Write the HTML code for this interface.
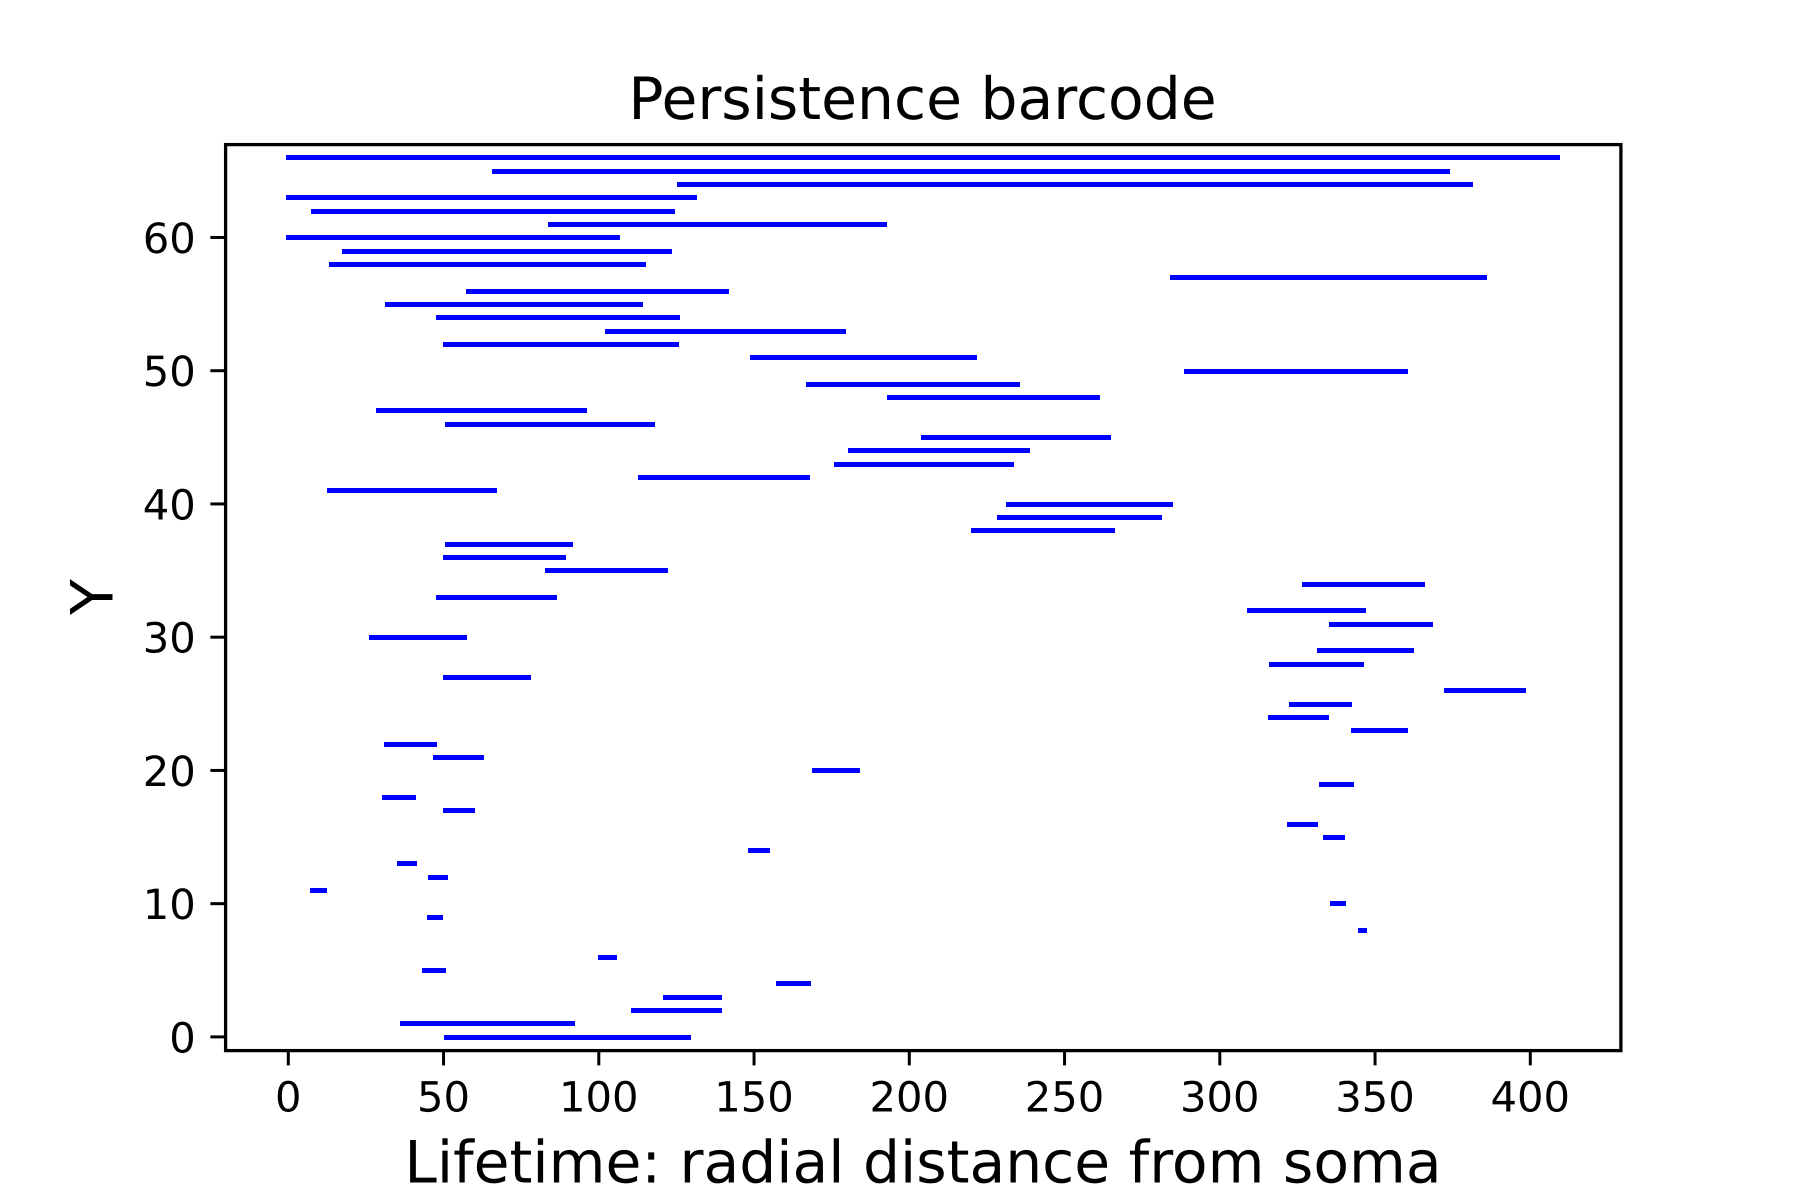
<!DOCTYPE html>
<html lang="en">
<head>
<meta charset="utf-8">
<title>Persistence barcode</title>
<style>
  html, body { margin: 0; padding: 0; background: #ffffff; width: 1800px; height: 1200px; overflow: hidden; }
  svg { display: block; }
  text { font-family: "DejaVu Sans", "Liberation Sans", sans-serif; fill: #000000; text-rendering: geometricPrecision; }
  .tick-label { font-size: 41.67px; }
  .axis-title { font-size: 58.33px; }
</style>
</head>
<body>
<svg id="chart" xmlns="http://www.w3.org/2000/svg" width="1800" height="1200" viewBox="0 0 1800 1200">
  <rect x="0" y="0" width="1800" height="1200" fill="#ffffff"></rect>
  <g id="bars"></g>
  <g id="x-ticks"></g>
  <g id="y-ticks"></g>
  <rect x="225.6" y="144.6" width="1395.3" height="906" fill="none" stroke="#000000" stroke-width="3.3"></rect>
  <text class="axis-title" x="922.5" y="119" text-anchor="middle">Persistence barcode</text>
  <text class="axis-title" x="923" y="1182.5" text-anchor="middle">Lifetime: radial distance from soma</text>
  <text class="axis-title" x="0" y="0" text-anchor="middle" transform="translate(112.5 597) rotate(-90)">Y</text>
</svg>
<script>
const levels = [0,1,2,3,4,5,6,8,9,10,11,12,13,14,15,16,17,18,19,20,21,22,23,24,25,26,27,28,29,30,31,32,33,34,35,36,37,38,39,40,41,42,43,44,45,46,47,48,49,50,51,52,53,54,55,56,57,58,59,60,61,62,63,64,65,66];
const births = [50.95,36.78,111.17,121.48,157.87,43.86,100.55,345.31,45.47,336.29,7.79,45.80,35.81,148.85,334.04,322.45,50.63,30.98,332.75,169.47,47.41,31.63,343.06,316.33,323.09,373.01,50.63,316.65,332.11,26.80,335.97,309.57,48.37,327.28,83.48,50.63,51.27,220.67,229.05,231.95,13.27,113.43,176.55,181.06,204.57,51.27,29.05,193.62,167.53,289.27,149.50,50.63,102.80,48.37,31.95,58.04,284.77,13.91,18.10,0,84.44,8.12,0,125.99,66.41,0];
const deaths = [128.89,91.53,138.87,138.87,167.53,49.98,105.06,346.60,49.02,339.84,11.66,50.63,40.64,154.33,339.51,330.82,59.32,40.32,342.41,183.32,62.22,47.08,359.80,334.36,341.77,397.81,77.36,345.63,361.74,56.75,367.85,346.27,85.73,365.28,121.48,88.63,90.88,265.44,280.58,284.12,66.41,167.21,232.92,238.07,264.15,117.29,95.39,260.61,234.85,359.80,221.00,125.02,178.81,125.35,113.43,141.13,385.25,114.40,122.77,106.02,192.01,123.74,130.82,380.74,373.33,408.76];
const xTickValues = [0,50,100,150,200,250,300,350,400];
const xTickLabels = ["0","50","100","150","200","250","300","350","400"];
const yTickValues = [0,10,20,30,40,50,60];
const yTickLabels = ["0","10","20","30","40","50","60"];

const NS = "http://www.w3.org/2000/svg";
const xScale = function (v) { return 288.3 + 3.105 * v; };
const yScale = function (v) { return 1037.204 - 13.324 * v; };
const BAR_THICKNESS = 5;

const barLayer = document.getElementById("bars");
levels.forEach(function (level, i) {
  const left = Math.round(xScale(births[i]) - BAR_THICKNESS / 2);
  const right = Math.round(xScale(deaths[i]) + BAR_THICKNESS / 2);
  const top = Math.round(yScale(level) - BAR_THICKNESS / 2);
  const bar = document.createElementNS(NS, "rect");
  bar.setAttribute("x", left);
  bar.setAttribute("y", top);
  bar.setAttribute("width", Math.max(right - left, 1));
  bar.setAttribute("height", BAR_THICKNESS);
  bar.setAttribute("fill", "#0000ff");
  
  
  barLayer.appendChild(bar);
});

const xTickLayer = document.getElementById("x-ticks");
xTickValues.forEach(function (value, i) {
  const px = xScale(value);
  const tick = document.createElementNS(NS, "line");
  tick.setAttribute("x1", px);
  tick.setAttribute("x2", px);
  tick.setAttribute("y1", 1051);
  tick.setAttribute("y2", 1065.4);
  tick.setAttribute("stroke", "#000000");
  tick.setAttribute("stroke-width", 3);
  
  
  xTickLayer.appendChild(tick);
  const label = document.createElementNS(NS, "text");
  label.setAttribute("x", px);
  label.setAttribute("y", 1111.7);
  label.setAttribute("text-anchor", "middle");
  label.setAttribute("class", "tick-label");
  
  
  label.textContent = xTickLabels[i];
  xTickLayer.appendChild(label);
});

const yTickLayer = document.getElementById("y-ticks");
yTickValues.forEach(function (value, i) {
  const py = yScale(value) - 0.3;
  const tick = document.createElementNS(NS, "line");
  tick.setAttribute("x1", 210.4);
  tick.setAttribute("x2", 225.5);
  tick.setAttribute("y1", py);
  tick.setAttribute("y2", py);
  tick.setAttribute("stroke", "#000000");
  tick.setAttribute("stroke-width", 3);
  
  
  yTickLayer.appendChild(tick);
  const label = document.createElementNS(NS, "text");
  label.setAttribute("x", 195.8);
  label.setAttribute("y", py + 15.4);
  label.setAttribute("text-anchor", "end");
  label.setAttribute("class", "tick-label");
  
  
  label.textContent = yTickLabels[i];
  yTickLayer.appendChild(label);
});
</script>
</body>
</html>
